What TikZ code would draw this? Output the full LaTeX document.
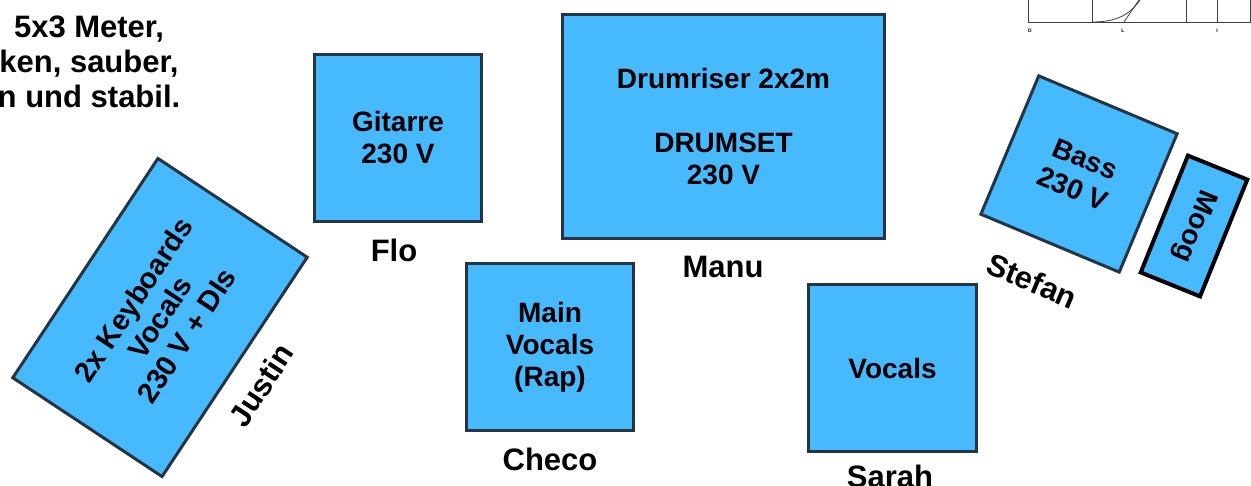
\documentclass[tikz,border=0pt]{standalone}
\usepackage{fontspec}
\setmainfont{Liberation Sans}
\usetikzlibrary{positioning}
\definecolor{stageblue}{RGB}{70,185,255}
\definecolor{stageedge}{RGB}{36,52,64}

\begin{document}
\begin{tikzpicture}[x=1pt, y=-1pt,
  spot/.style={rectangle, draw=stageedge, line width=3pt,
               fill=stageblue, align=center,
               font=\bfseries\fontsize{28}{32}\selectfont},
  who/.style={font=\bfseries\fontsize{31}{36}\selectfont},
  note/.style={align=center, font=\bfseries\fontsize{31}{35}\selectfont},
  sketch/.style={draw=black!75, line width=0.8pt},
  tiny/.style={font=\bfseries\fontsize{5}{6}\selectfont, inner sep=0pt}
]
\useasboundingbox (0,0) rectangle (1251,486);
\clip (0,0) rectangle (1251,486);

% note at the top left
\node[note] (stage) at (89,62) {5x3 Meter,\\ken, sauber,\\n und stabil.};

% plan fragment at the top right
\draw[sketch] (1028,0) -- (1028,22) -- (1251,22);
\foreach \xx in {1092,1186,1217,1250}
  \draw[sketch] (\xx,0) -- (\xx,22);
\draw[sketch] (1093,22) .. controls (1122,22) and (1133,10) .. (1140,0);
\draw[sketch] (1124,22) -- (1139,0);
\node[tiny] (pd) at (1030,31) {D};
\node[tiny] (pl) at (1123,31) {L};
\node[tiny] (pi) at (1217,31) {I};

% positions
\node[spot, minimum width=167, minimum height=167] (gitarre) at (398,138) {Gitarre\\230 V};
\node[spot, minimum width=322, minimum height=224] (drums) at (723.5,126.5)
     {Drumriser 2x2m\\\mbox{}\\DRUMSET\\230 V};
\node[spot, minimum width=167, minimum height=167] (mainvoc) at (550,347) {Main\\Vocals\\(Rap)};
\node[spot, minimum width=168, minimum height=167] (vocals) at (892.5,368) {Vocals};
\node[spot, minimum width=263, minimum height=179, rotate=56.5,
      font=\bfseries\fontsize{29}{32}\selectfont] (keys) at (160,317.5)
     {2x Keyboards\\Vocals\\230 V + DIs};
\node[spot, minimum width=150, minimum height=150, rotate=-22.7] (bass) at (1079,174) {Bass\\230 V};
\node[spot, draw=black, line width=4pt, minimum width=126, minimum height=64,
      rotate=-112] (moog) at (1194,226) {Moog};

% players
\node[who] (flo)    at (394,250)  {Flo};
\node[who] (manu)   at (723,267)  {Manu};
\node[who] (checo)  at (550,459)  {Checo};
\node[who] (sarah)  at (890,476)  {Sarah};
\node[who, rotate=56.5]  (justin) at (261,385) {Justin};
\node[who, rotate=-22.7] (stefan) at (1032,281) {Stefan};
\end{tikzpicture}
\end{document}
